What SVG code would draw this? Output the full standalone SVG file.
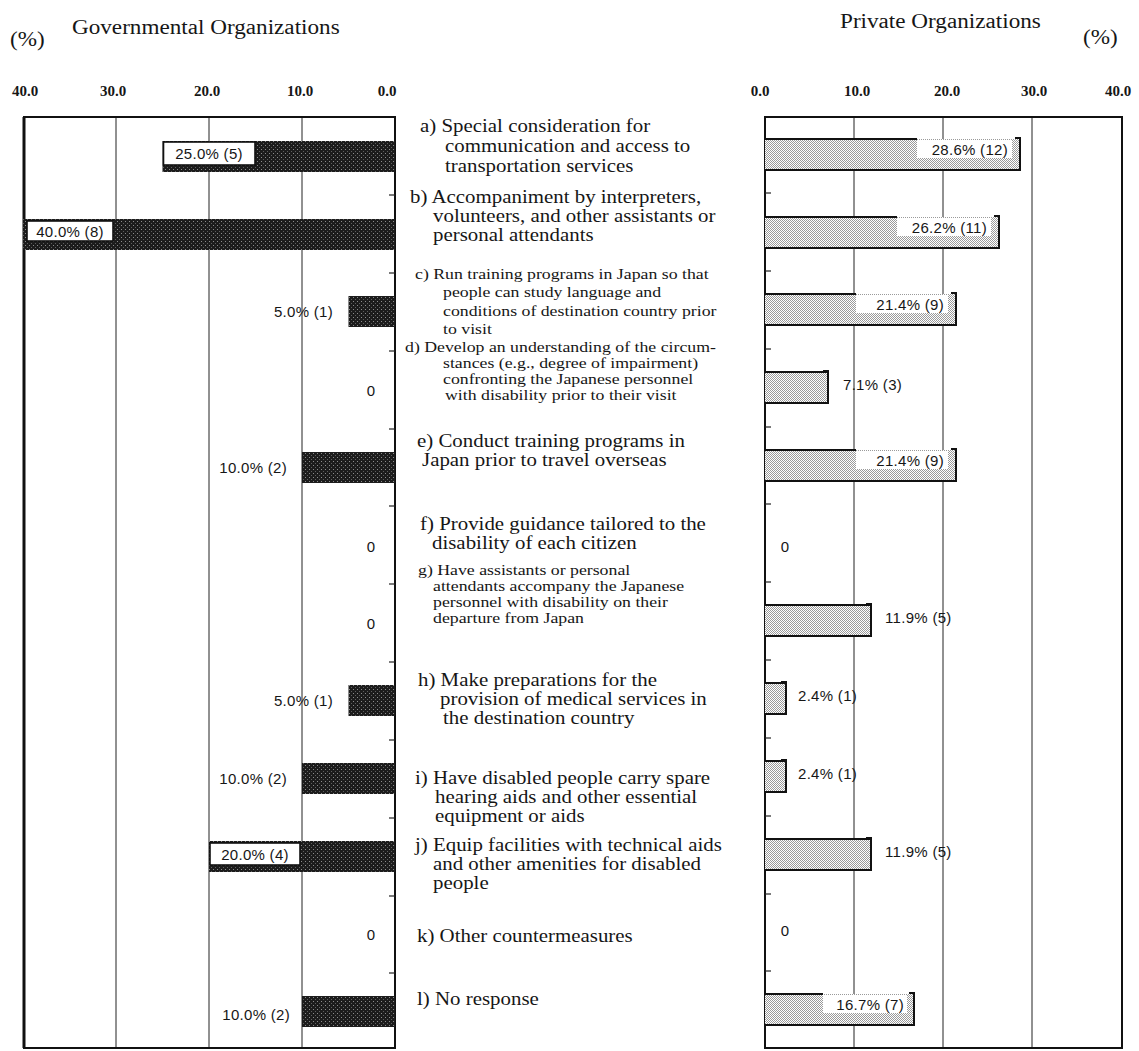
<svg xmlns="http://www.w3.org/2000/svg" width="1139" height="1051" viewBox="0 0 1139 1051">
<defs>
<pattern id="dk" width="4" height="4" patternUnits="userSpaceOnUse"><rect width="4" height="4" fill="#1c1c1c"/><rect x="1" y="1" width="1" height="1" fill="#8c8c8c"/><rect x="3" y="3" width="1" height="1" fill="#5e5e5e"/></pattern>
<pattern id="lt" width="2" height="2" patternUnits="userSpaceOnUse"><rect width="2" height="2" fill="#ffffff"/><rect width="1" height="1" fill="#9a9a9a"/><rect x="1" y="1" width="1" height="1" fill="#9a9a9a"/></pattern>
</defs>
<style>
.lb{font-family:"Liberation Serif",serif;font-size:18.5px;fill:#161616}
.sm{font-size:15.2px}
.ttl{font-family:"Liberation Serif",serif;font-size:20.5px;fill:#161616}
.ax{font-family:"Liberation Serif",serif;font-size:15px;font-weight:bold;fill:#161616}
.val{font-family:"Liberation Sans",sans-serif;font-size:15px;letter-spacing:.3px;fill:#161616}
.fr{fill:none;stroke:#111;stroke-width:2}
.gr{stroke:#222;stroke-width:1}
.tk{stroke:#222;stroke-width:1.2}
.gb{fill:url(#dk)}
.pb{fill:url(#lt)}
.ln{stroke:#111;stroke-width:2;fill:none}
.bx{fill:#fff;stroke:#111;stroke-width:1.6}
.wb{fill:#fff}
</style>
<rect width="1139" height="1051" fill="#fff"/>

<g id="headers">
<text class="ttl" transform="translate(10,46) scale(1.13,1)">(%)</text>
<text class="ttl" transform="translate(72,34) scale(1.13,1)">Governmental Organizations</text>
<text class="ttl" transform="translate(840,28) scale(1.13,1)">Private Organizations</text>
<text class="ttl" transform="translate(1083,44) scale(1.13,1)">(%)</text>
</g>

<g id="axis-gov">
<text class="ax" x="25" y="96" text-anchor="middle">40.0</text>
<text class="ax" x="113" y="96" text-anchor="middle">30.0</text>
<text class="ax" x="207" y="96" text-anchor="middle">20.0</text>
<text class="ax" x="300" y="96" text-anchor="middle">10.0</text>
<text class="ax" x="387" y="96" text-anchor="middle">0.0</text>
<line class="gr" x1="116" y1="117" x2="116" y2="1048"/>
<line class="gr" x1="209" y1="117" x2="209" y2="1048"/>
<line class="gr" x1="302" y1="117" x2="302" y2="1048"/>
<rect class="fr" x="24" y="117" width="371" height="931"/>
<line x1="24" y1="117" x2="24" y2="1048" stroke="#111" stroke-width="3"/>
<g class="tk">
<line x1="389" y1="195" x2="395" y2="195"/><line x1="389" y1="273" x2="395" y2="273"/><line x1="389" y1="351" x2="395" y2="351"/><line x1="389" y1="429" x2="395" y2="429"/><line x1="389" y1="506" x2="395" y2="506"/><line x1="389" y1="584" x2="395" y2="584"/><line x1="389" y1="662" x2="395" y2="662"/><line x1="389" y1="740" x2="395" y2="740"/><line x1="389" y1="818" x2="395" y2="818"/><line x1="389" y1="896" x2="395" y2="896"/><line x1="389" y1="973" x2="395" y2="973"/>
</g>
</g>

<g id="axis-priv">
<text class="ax" x="760" y="96" text-anchor="middle">0.0</text>
<text class="ax" x="857" y="96" text-anchor="middle">10.0</text>
<text class="ax" x="947" y="96" text-anchor="middle">20.0</text>
<text class="ax" x="1034" y="96" text-anchor="middle">30.0</text>
<text class="ax" x="1118" y="96" text-anchor="middle">40.0</text>
<line class="gr" x1="854" y1="117" x2="854" y2="1048"/>
<line class="gr" x1="943" y1="117" x2="943" y2="1048"/>
<line class="gr" x1="1032" y1="117" x2="1032" y2="1048"/>
<rect class="fr" x="765" y="117" width="357" height="931"/>
<g class="tk">
<line x1="765" y1="193" x2="771" y2="193"/><line x1="765" y1="271" x2="771" y2="271"/><line x1="765" y1="349" x2="771" y2="349"/><line x1="765" y1="427" x2="771" y2="427"/><line x1="765" y1="504" x2="771" y2="504"/><line x1="765" y1="582" x2="771" y2="582"/><line x1="765" y1="660" x2="771" y2="660"/><line x1="765" y1="738" x2="771" y2="738"/><line x1="765" y1="816" x2="771" y2="816"/><line x1="765" y1="894" x2="771" y2="894"/><line x1="765" y1="971" x2="771" y2="971"/>
</g>
</g>

<g id="row-a">
<rect class="gb" x="162.5" y="141" width="232.5" height="31"/>
<rect class="bx" x="163.5" y="142" width="91.5" height="23"/>
<text class="val" x="209" y="159" text-anchor="middle">25.0% (5)</text>
<text class="lb" transform="translate(420,132) scale(1.13,1)">a) Special consideration for</text>
<text class="lb" transform="translate(445,152) scale(1.13,1)">communication and access to</text>
<text class="lb" transform="translate(445,172) scale(1.13,1)">transportation services</text>
<rect class="pb" x="765" y="139" width="255" height="32"/>
<rect class="wb" x="917" y="140" width="95" height="18"/>
<path class="ln" d="M765 139H917M765 170H1021M1020 138V171M1015 138H1021"/>
<text class="val" x="1008" y="155" text-anchor="end">28.6% (12)</text>
</g>

<g id="row-b">
<rect class="gb" x="23" y="219" width="372" height="31"/>
<rect class="bx" x="27" y="221" width="86" height="20"/>
<text class="val" x="70" y="237" text-anchor="middle">40.0% (8)</text>
<text class="lb" transform="translate(410,203) scale(1.13,1)">b) Accompaniment by interpreters,</text>
<text class="lb" transform="translate(433,222) scale(1.13,1)">volunteers, and other assistants or</text>
<text class="lb" transform="translate(433,241) scale(1.13,1)">personal attendants</text>
<rect class="pb" x="765" y="217" width="234" height="32"/>
<rect class="wb" x="897" y="218" width="94" height="18"/>
<path class="ln" d="M765 217H897M765 248H1000M999 216V249M994 216H1000"/>
<text class="val" x="987" y="233" text-anchor="end">26.2% (11)</text>
</g>

<g id="row-c">
<rect class="gb" x="348.5" y="296" width="46.5" height="31"/>
<text class="val" x="333" y="317" text-anchor="end">5.0% (1)</text>
<text class="lb sm" transform="translate(415,279) scale(1.17,1)">c) Run training programs in Japan so that</text>
<text class="lb sm" transform="translate(443,297) scale(1.17,1)">people can study language and</text>
<text class="lb sm" transform="translate(443,316) scale(1.17,1)">conditions of destination country prior</text>
<text class="lb sm" transform="translate(443,334) scale(1.17,1)">to visit</text>
<rect class="pb" x="765" y="294" width="191" height="32"/>
<rect class="wb" x="856" y="295" width="92" height="18"/>
<path class="ln" d="M765 294H856M765 325H957M956 293V326M951 293H957"/>
<text class="val" x="944" y="310" text-anchor="end">21.4% (9)</text>
</g>

<g id="row-d">
<text class="val" x="371" y="396" text-anchor="middle">0</text>
<text class="lb sm" transform="translate(405,352) scale(1.17,1)">d) Develop an understanding of the circum-</text>
<text class="lb sm" transform="translate(443,368) scale(1.17,1)">stances (e.g., degree of impairment)</text>
<text class="lb sm" transform="translate(443,384) scale(1.17,1)">confronting the Japanese personnel</text>
<text class="lb sm" transform="translate(445,400) scale(1.17,1)">with disability prior to their visit</text>
<rect class="pb" x="765" y="372" width="63" height="32"/>
<path class="ln" d="M765 372H828M765 403H829M828 371V404M823 371H829"/>
<text class="val" x="843" y="390">7.1% (3)</text>
</g>

<g id="row-e">
<rect class="gb" x="302" y="452" width="93" height="31"/>
<text class="val" x="287" y="473" text-anchor="end">10.0% (2)</text>
<text class="lb" transform="translate(417,447) scale(1.13,1)">e) Conduct training programs in</text>
<text class="lb" transform="translate(422,466) scale(1.13,1)">Japan prior to travel overseas</text>
<rect class="pb" x="765" y="450" width="191" height="32"/>
<rect class="wb" x="856" y="451" width="92" height="18"/>
<path class="ln" d="M765 450H856M765 481H957M956 449V482M951 449H957"/>
<text class="val" x="944" y="466" text-anchor="end">21.4% (9)</text>
</g>

<g id="row-f">
<text class="val" x="371" y="552" text-anchor="middle">0</text>
<text class="lb" transform="translate(420,530) scale(1.13,1)">f) Provide guidance tailored to the</text>
<text class="lb" transform="translate(432,549) scale(1.13,1)">disability of each citizen</text>
<text class="val" x="785" y="552" text-anchor="middle">0</text>
</g>

<g id="row-g">
<text class="val" x="371" y="629" text-anchor="middle">0</text>
<text class="lb sm" transform="translate(418,575) scale(1.17,1)">g) Have assistants or personal</text>
<text class="lb sm" transform="translate(433,591) scale(1.17,1)">attendants accompany the Japanese</text>
<text class="lb sm" transform="translate(433,607) scale(1.17,1)">personnel with disability on their</text>
<text class="lb sm" transform="translate(433,623) scale(1.17,1)">departure from Japan</text>
<rect class="pb" x="765" y="605" width="106" height="32"/>
<path class="ln" d="M765 605H871M765 636H872M871 604V637M866 604H872"/>
<text class="val" x="885" y="623">11.9% (5)</text>
</g>

<g id="row-h">
<rect class="gb" x="348.5" y="685" width="46.5" height="31"/>
<text class="val" x="333" y="706" text-anchor="end">5.0% (1)</text>
<text class="lb" transform="translate(418,686) scale(1.13,1)">h) Make preparations for the</text>
<text class="lb" transform="translate(440,705) scale(1.13,1)">provision of medical services in</text>
<text class="lb" transform="translate(443,724) scale(1.13,1)">the destination country</text>
<rect class="pb" x="765" y="683" width="21" height="32"/>
<path class="ln" d="M765 683H786M765 714H787M786 682V715M781 682H787"/>
<text class="val" x="798" y="701">2.4% (1)</text>
</g>

<g id="row-i">
<rect class="gb" x="302" y="763" width="93" height="31"/>
<text class="val" x="287" y="784" text-anchor="end">10.0% (2)</text>
<text class="lb" transform="translate(415,784) scale(1.13,1)">i) Have disabled people carry spare</text>
<text class="lb" transform="translate(435,803) scale(1.13,1)">hearing aids and other essential</text>
<text class="lb" transform="translate(435,822) scale(1.13,1)">equipment  or aids</text>
<rect class="pb" x="765" y="761" width="21" height="32"/>
<path class="ln" d="M765 761H786M765 792H787M786 760V793M781 760H787"/>
<text class="val" x="798" y="779">2.4% (1)</text>
</g>

<g id="row-j">
<rect class="gb" x="209" y="841" width="186" height="31"/>
<rect class="bx" x="210" y="843" width="90" height="22"/>
<text class="val" x="255" y="860" text-anchor="middle">20.0% (4)</text>
<text class="lb" transform="translate(415,851) scale(1.13,1)">j) Equip facilities with technical aids</text>
<text class="lb" transform="translate(433,870) scale(1.13,1)">and other amenities for disabled</text>
<text class="lb" transform="translate(433,889) scale(1.13,1)">people</text>
<rect class="pb" x="765" y="839" width="106" height="32"/>
<path class="ln" d="M765 839H871M765 870H872M871 838V871M866 838H872"/>
<text class="val" x="885" y="857">11.9% (5)</text>
</g>

<g id="row-k">
<text class="val" x="371" y="940" text-anchor="middle">0</text>
<text class="lb" transform="translate(417,942) scale(1.13,1)">k) Other countermeasures</text>
<text class="val" x="785" y="936" text-anchor="middle">0</text>
</g>

<g id="row-l">
<rect class="gb" x="302" y="996" width="93" height="31"/>
<text class="val" x="290" y="1020" text-anchor="end">10.0% (2)</text>
<text class="lb" transform="translate(417,1005) scale(1.13,1)">l) No response</text>
<rect class="pb" x="765" y="994" width="149" height="32"/>
<rect class="wb" x="823" y="995" width="84" height="18"/>
<path class="ln" d="M765 994H823M765 1025H915M914 993V1026M909 993H915"/>
<text class="val" x="904" y="1010" text-anchor="end">16.7% (7)</text>
</g>
</svg>
